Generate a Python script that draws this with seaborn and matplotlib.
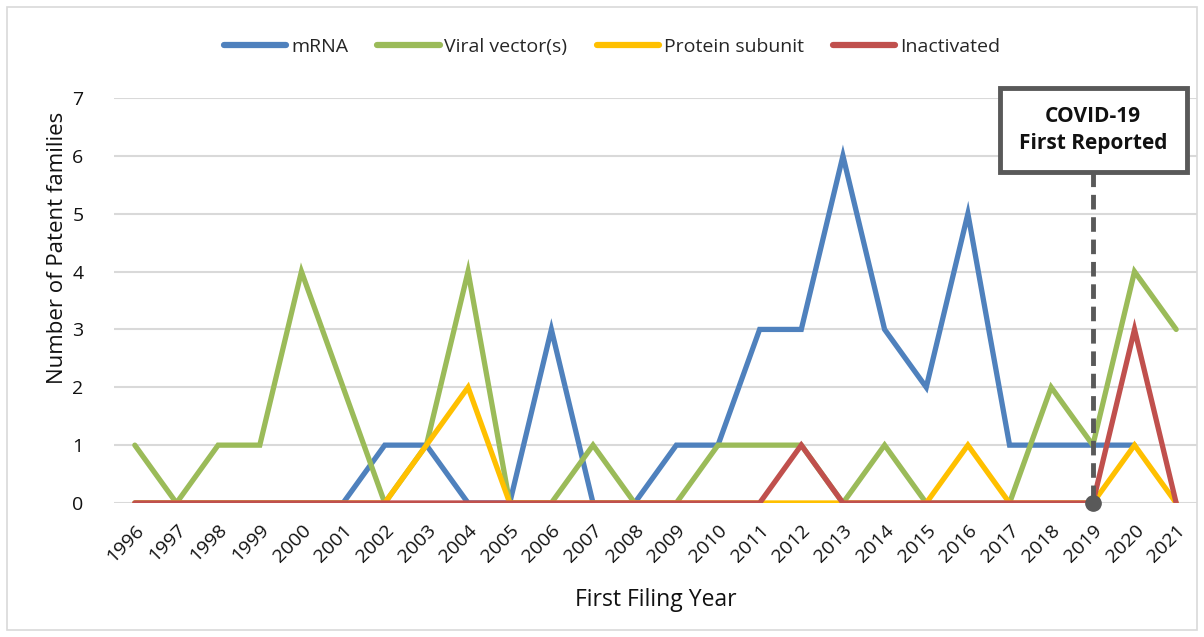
import numpy as np
import pandas as pd
import matplotlib
matplotlib.use("Agg")
import matplotlib.pyplot as plt
import seaborn as sns
from matplotlib.patches import Rectangle

years = list(range(1996, 2022))
mrna = [0, 0, 0, 0, 0, 0, 1, 1, 0, 0, 3, 0, 0, 1, 1, 3, 3, 6, 3, 2, 5, 1, 1, 1, 1, np.nan]
viral = [1, 0, 1, 1, 4, 2, 0, 1, 4, 0, 0, 1, 0, 0, 1, 1, 1, 0, 1, 0, 0, 0, 2, 1, 4, 3]
protein = [0, 0, 0, 0, 0, 0, 0, 1, 2, 0, 0, 0, 0, 0, 0, 0, 0, 0, 0, 0, 1, 0, 0, 0, 1, 0]
inactivated = [0, 0, 0, 0, 0, 0, 0, 0, 0, 0, 0, 0, 0, 0, 0, 0, 1, 0, 0, 0, 0, 0, 0, 0, 3, 0]
series_names = ["mRNA", "Viral vector(s)", "Protein subunit", "Inactivated"]
colors = ["#4F81BD", "#9BBB59", "#FFC000", "#C0504D"]
covid_year = 2019

df = pd.DataFrame({"year": years, series_names[0]: mrna, series_names[1]: viral,
                   series_names[2]: protein, series_names[3]: inactivated})
long = df.melt(id_vars="year", var_name="series", value_name="count")

sns.set_theme(style="white")
plt.rcParams['font.family'] = ['Open Sans', 'DejaVu Sans']

fig = plt.figure(figsize=(12.04, 6.37), dpi=100)
ax = fig.add_axes([114/1204, 1-503/637, (1197-114)/1204, (503-98)/637])

sns.lineplot(data=long, x="year", y="count", hue="series", hue_order=series_names,
             palette=colors, linewidth=3.8, ax=ax, legend=True, estimator=None,
             solid_capstyle="round", solid_joinstyle="miter")

ax.set_xlim(1995.5, 2021.5)
ax.set_ylim(0, 7)
ax.set_yticks(range(0, 8))
ax.set_xticks(years)
ax.set_xticklabels([str(y) for y in years], rotation=45, ha="right",
                   rotation_mode="anchor", fontsize=14, color="#111111")
ax.set_yticklabels([str(v) for v in range(0, 8)], fontsize=14, color="#111111")
ax.tick_params(axis="x", pad=13, length=0)
ax.tick_params(axis="y", pad=22, length=0)
ax.yaxis.grid(True, color="#d9d9d9", linewidth=1.5)
ax.set_axisbelow(True)
for s in ax.spines.values():
    s.set_visible(False)

ax.set_xlabel("First Filing Year", fontsize=16.5, color="#111111")
ax.set_ylabel("Number of Patent families", fontsize=16, color="#111111")
ax.xaxis.set_label_coords(0.5, (503 - 600) / 405)
ax.xaxis.label.set_va("center")
ax.yaxis.set_label_coords((58 - 114) / 1083, (503 - 248) / 405)
ax.yaxis.label.set_va("center")
ax.yaxis.label.set_ha("center")

handles, labels = ax.get_legend_handles_labels()
ax.get_legend().remove()
leg = fig.legend(handles, labels, loc="center", bbox_to_anchor=(612/1204, 1 - 47/637), ncol=4,
                 frameon=False, fontsize=14, handlelength=3.2, columnspacing=1.5,
                 handletextpad=0.25)
for h in leg.get_lines():
    h.set_linewidth(4.5)

# COVID annotation
ax.plot([covid_year, covid_year], [5.72, 0], color="#595959", linewidth=3.5,
        linestyle=(0, (3, 1.6)), clip_on=False, zorder=5)
ax.plot([covid_year], [0], marker="o", markersize=11, color="#595959", clip_on=False, zorder=6)
ax.add_patch(Rectangle((2016.77, 5.72), 2021.25 - 2016.77, 7.17 - 5.72, facecolor="white",
                       edgecolor="#595959", linewidth=3.5, clip_on=False, zorder=7))
ax.text((2016.77 + 2021.25) / 2, (5.72 + 7.17) / 2, "COVID-19\nFirst Reported", ha="center",
        va="center", fontsize=15, fontweight="bold", linespacing=1.35, zorder=8,
        color="#111111")

fig.add_artist(Rectangle((7/1204, 7/637), 1-14/1204, 1-14/637, transform=fig.transFigure,
                         fill=False, edgecolor="#d9d9d9", linewidth=1.2))

fig.savefig("out.png", dpi=100, facecolor="white")
